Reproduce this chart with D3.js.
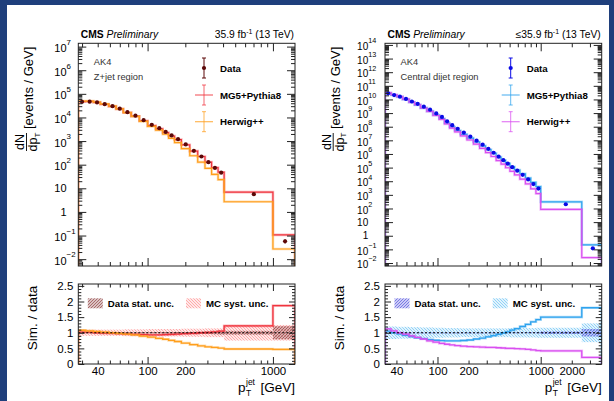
<!DOCTYPE html>
<html>
<head>
<meta charset="utf-8">
<script src="https://cdn.jsdelivr.net/npm/d3@7"></script>
<style>
  body { margin: 0; background: #1f3f7c; }
  svg { display: block; font-family: "Liberation Sans", Arial, Helvetica, sans-serif; }
</style>
</head>
<body>
<svg id="chart" width="614" height="401"></svg>
<script>
// =============================
// Data: Z+jet region (AK4)
// =============================
const zEdges   = [28, 32, 37, 42, 49, 56, 64, 74, 86, 100, 116, 132, 147, 164, 186, 217, 251, 287, 324, 365, 408, 1000, 1500];
const zData    = [45800, 46700, 43200, 36600, 30100, 23600, 16800, 11900, 7690, 4860, 3520, 2450, 1730, 1200, 718, 385, 222, 128, 73, 45.8, 5.62, 0.0573];
const zMG5     = [46700, 47600, 43200, 36200, 29500, 22900, 16100, 11300, 7230, 4520, 3270, 2300, 1640, 1150, 696, 377, 222, 129, 75.2, 48.1, 6.86, 0.107];
const zHerwig  = [49500, 49500, 44900, 37300, 30100, 23100, 16100, 11100, 6840, 4180, 2890, 1940, 1310, 864, 481, 239, 129, 70.4, 38.7, 23.4, 2.70, 0.0269];
const zStat    = [0.01, 0.01, 0.01, 0.01, 0.01, 0.01, 0.01, 0.01, 0.012, 0.014, 0.016, 0.018, 0.02, 0.022, 0.025, 0.03, 0.035, 0.04, 0.05, 0.06, 0.06, 0.21];
const zSyst    = [0.1, 0.1, 0.1, 0.1, 0.1, 0.1, 0.11, 0.11, 0.11, 0.12, 0.12, 0.12, 0.12, 0.12, 0.13, 0.13, 0.13, 0.14, 0.14, 0.14, 0.25, 0.25];
const zDecades = [0.01, 0.1, 1, 10, 100, 1e3, 1e4, 1e5, 1e6, 1e7];
const zXLabels = [40, 100, 200, 1000];

// =============================
// Data: central dijet region (AK4)
// =============================
const djEdges  = [31, 35.5, 40.5, 46, 53, 60, 68.5, 79, 90.5, 104, 117, 131, 147, 167, 193, 223, 256, 292, 330, 370, 413, 456, 503, 557, 628, 711, 800, 899, 1000, 2500, 3900];
const djData   = [2.8e10, 2.1e10, 1.6e10, 1.1e10, 7.1e9, 4.8e9, 2.95e9, 1.78e9, 9.5e8, 5.2e8, 2.5e8, 1.3e8, 7.1e7, 3.7e7, 1.9e7, 9.5e6, 4.8e6, 2.4e6, 1.23e6, 6.3e5, 3.5e5, 1.95e5, 1.07e5, 5.9e4, 2.95e4, 1.35e4, 6.2e3, 2.9e3, 204, 0.12];
const djMG5    = [2.94e10, 2.1e10, 1.54e10, 1.01e10, 6.25e9, 4.03e9, 2.39e9, 1.39e9, 7.22e8, 3.9e8, 1.85e8, 9.62e7, 5.25e7, 2.78e7, 1.46e7, 7.6e6, 3.98e6, 2.09e6, 1.12e6, 5.99e5, 3.47e5, 2.01e5, 1.16e5, 6.67e4, 3.54e4, 1.71e4, 8.37e3, 4.12e3, 306, 0.216];
const djHerwig = [3.14e10, 2.23e10, 1.6e10, 1.05e10, 6.39e9, 4.08e9, 2.36e9, 1.32e9, 6.65e8, 3.43e8, 1.58e8, 7.93e7, 4.19e7, 2.11e7, 1.06e7, 5.23e6, 2.59e6, 1.27e6, 6.52e5, 3.28e5, 1.79e5, 9.75e4, 5.35e4, 2.89e4, 1.42e4, 6.35e3, 2.79e3, 1.25e3, 85.7, 0.0252];
const djStat   = [0.005, 0.005, 0.005, 0.005, 0.005, 0.005, 0.005, 0.005, 0.005, 0.005, 0.005, 0.005, 0.005, 0.005, 0.005, 0.005, 0.005, 0.005, 0.005, 0.005, 0.006, 0.007, 0.008, 0.01, 0.01, 0.012, 0.015, 0.02, 0.04, 0.12];
const djSyst   = [0.2, 0.2, 0.19, 0.19, 0.18, 0.18, 0.17, 0.17, 0.16, 0.16, 0.15, 0.15, 0.15, 0.14, 0.14, 0.14, 0.14, 0.14, 0.14, 0.14, 0.14, 0.14, 0.15, 0.15, 0.15, 0.15, 0.15, 0.16, 0.16, 0.3];
const djDecades = [0.01, 0.1, 1, 10, 100, 1e3, 1e4, 1e5, 1e6, 1e7, 1e8, 1e9, 1e10, 1e11, 1e12, 1e13, 1e14];
const djXLabels = [40, 100, 200, 1000, 2000];

const ratioLabels = [0, 0.5, 1, 1.5, 2, 2.5];

// =============================
// Layout
// =============================
const UP_TOP = 43.3, UP_BOTTOM = 266;
const LO_TOP = 284, LO_BOTTOM = 364;

const svg = d3.select("#chart");
svg.append("rect").attr("width", 614).attr("height", 401).attr("fill", "#1f3f7c");
svg.append("rect").attr("x", 7).attr("y", 5).attr("width", 602).attr("height", 396).attr("fill", "#fff");

const defs = svg.append("defs");

// hatch fill used for the uncertainty bands
function hatch(id, color, forward, bg) {
    const p = defs.append("pattern")
        .attr("id", id)
        .attr("patternUnits", "userSpaceOnUse")
        .attr("width", 3).attr("height", 3);
    p.append("rect").attr("width", 3).attr("height", 3).attr("fill", bg);
    p.append("path")
        .attr("d", forward ? "M-1,1L1,-1M0,3L3,0M2,4L4,2" : "M-1,2L1,4M0,0L3,3M2,-1L4,1")
        .attr("stroke", color)
        .attr("stroke-width", 0.6);
}

const panels = [
    {
        id: "z", x0: 78.3, x1: 295,
        xDomain: [28, 1500], yDomain: [Math.pow(10, -2.29), Math.pow(10, 7.14)],
        edges: zEdges, data: zData, mg: zMG5, hw: zHerwig, stat: zStat, syst: zSyst,
        decades: zDecades, xLabels: zXLabels,
        dataColor: "#5c0808", mgColor: "#f0343e", hwColor: "#ff9f1c",
        statColor: "#8a3030", statBg: "rgba(150,80,80,0.35)",
        systColor: "#ff8080", systBg: "rgba(255,190,190,0.35)",
        lumiPre: "35.9 fb", region: "Z+jet region",
        yGap: 11.7, yFont: 11
    },
    {
        id: "dj", x0: 385, x1: 601.7,
        xDomain: [31, 3900], yDomain: [Math.pow(10, -2.22), Math.pow(10, 14.12)],
        edges: djEdges, data: djData, mg: djMG5, hw: djHerwig, stat: djStat, syst: djSyst,
        decades: djDecades, xLabels: djXLabels,
        dataColor: "#0a0ae6", mgColor: "#2ea3ee", hwColor: "#d94ff0",
        statColor: "#4545d8", statBg: "rgba(110,110,230,0.35)",
        systColor: "#5cbcf2", systBg: "rgba(170,220,250,0.35)",
        lumiPre: "\u226435.9 fb", region: "Central dijet region",
        yGap: 16.8, yFont: 10
    }
];

function cleanAxis(sel, fontSize) {
    sel.attr("font-family", null).attr("font-size", fontSize);
    sel.select(".domain").remove();
    sel.selectAll("line").attr("stroke", "#222");
}

function ticks(g, axisFn, scale, values, size, transform) {
    g.append("g")
        .attr("transform", transform)
        .call(axisFn(scale).tickValues(values).tickSize(size).tickFormat(""))
        .call(a => cleanAxis(a, 10));
}

function stepPath(edges, vals, x, y, base) {
    let d = "M" + x(edges[0]) + "," + base;
    vals.forEach((v, i) => {
        d += "L" + x(edges[i]) + "," + y(v) + "L" + x(edges[i + 1]) + "," + y(v);
    });
    d += "L" + x(edges[edges.length - 1]) + "," + base;
    return d;
}

panels.forEach(p => {
    const g = svg.append("g");
    const x = d3.scaleLog().domain(p.xDomain).range([p.x0, p.x1]);
    const y = d3.scaleLog().domain(p.yDomain).range([UP_BOTTOM, UP_TOP]);
    const r = d3.scaleLinear().domain([0, 2.56]).range([LO_BOTTOM, LO_TOP]);
    const w = p.x1 - p.x0;

    hatch("stat-" + p.id, p.statColor, true, p.statBg);
    hatch("syst-" + p.id, p.systColor, false, p.systBg);

    defs.append("clipPath").attr("id", "clipU-" + p.id)
        .append("rect").attr("x", p.x0).attr("y", UP_TOP).attr("width", w).attr("height", UP_BOTTOM - UP_TOP);
    defs.append("clipPath").attr("id", "clipL-" + p.id)
        .append("rect").attr("x", p.x0).attr("y", LO_TOP).attr("width", w).attr("height", LO_BOTTOM - LO_TOP);

    // ---------- upper panel ----------
    const up = g.append("g").attr("clip-path", "url(#clipU-" + p.id + ")");
    [[p.mg, p.mgColor], [p.hw, p.hwColor]].forEach(([vals, col]) => {
        up.append("path").attr("d", stepPath(p.edges, vals, x, y, UP_BOTTOM + 2))
            .attr("fill", "none").attr("stroke", col).attr("stroke-opacity", 0.35).attr("stroke-width", 2.6);
        up.append("path").attr("d", stepPath(p.edges, vals, x, y, UP_BOTTOM + 2))
            .attr("fill", "none").attr("stroke", col).attr("stroke-width", 1.2);
    });
    const centers = p.edges.slice(0, -1).map((e, i) => (e + p.edges[i + 1]) / 2);
    up.selectAll(".err").data(p.data).enter().append("line")
        .attr("x1", (d, i) => x(centers[i])).attr("x2", (d, i) => x(centers[i]))
        .attr("y1", (d, i) => y(d * (1 + p.stat[i]))).attr("y2", (d, i) => y(d * (1 - p.stat[i])))
        .attr("stroke", p.dataColor).attr("stroke-width", 1);
    up.selectAll(".pt").data(p.data).enter().append("circle")
        .attr("cx", (d, i) => x(centers[i])).attr("cy", d => y(d))
        .attr("r", 2.1).attr("fill", p.dataColor);

    // ---------- lower panel ----------
    const lo = g.append("g").attr("clip-path", "url(#clipL-" + p.id + ")");
    p.syst.forEach((u, i) => {
        lo.append("rect").attr("x", x(p.edges[i])).attr("width", x(p.edges[i + 1]) - x(p.edges[i]))
            .attr("y", r(1 + u)).attr("height", r(1 - u) - r(1 + u))
            .attr("fill", "url(#syst-" + p.id + ")");
    });
    p.stat.forEach((u, i) => {
        lo.append("rect").attr("x", x(p.edges[i])).attr("width", x(p.edges[i + 1]) - x(p.edges[i]))
            .attr("y", r(1 + u)).attr("height", Math.max(r(1 - u) - r(1 + u), 0.8))
            .attr("fill", "url(#stat-" + p.id + ")");
    });
    [[p.mg, p.mgColor], [p.hw, p.hwColor]].forEach(([vals, col]) => {
        const ratio = vals.map((v, i) => v / p.data[i]);
        lo.append("path").attr("d", stepPath(p.edges, ratio, x, r, LO_BOTTOM + 2))
            .attr("fill", "none").attr("stroke", col).attr("stroke-opacity", 0.35).attr("stroke-width", 2.6);
        lo.append("path").attr("d", stepPath(p.edges, ratio, x, r, LO_BOTTOM + 2))
            .attr("fill", "none").attr("stroke", col).attr("stroke-width", 1.3);
    });
    lo.append("line").attr("x1", p.x0).attr("x2", p.x1).attr("y1", r(1)).attr("y2", r(1))
        .attr("stroke", "#000").attr("stroke-width", 1).attr("stroke-dasharray", "2,2");

    // ---------- frames ----------
    [[UP_TOP, UP_BOTTOM], [LO_TOP, LO_BOTTOM]].forEach(([t, b]) => {
        g.append("rect").attr("x", p.x0).attr("y", t).attr("width", w).attr("height", b - t)
            .attr("fill", "none").attr("stroke", "#222").attr("stroke-width", 1);
    });

    // ---------- ticks ----------
    const xMinor = x.ticks().filter(v => Math.abs(Math.log10(v) % 1) > 1e-6);
    const xMajor = x.ticks().filter(v => Math.abs(Math.log10(v) % 1) < 1e-6);
    ticks(g, d3.axisBottom, x, xMinor, -4, `translate(0,${UP_BOTTOM})`);
    ticks(g, d3.axisBottom, x, xMajor, -8, `translate(0,${UP_BOTTOM})`);
    ticks(g, d3.axisTop, x, xMinor, -4, `translate(0,${UP_TOP})`);
    ticks(g, d3.axisTop, x, xMajor, -8, `translate(0,${UP_TOP})`);
    ticks(g, d3.axisBottom, x, xMinor, -3.5, `translate(0,${LO_BOTTOM})`);
    ticks(g, d3.axisBottom, x, xMajor, -7, `translate(0,${LO_BOTTOM})`);
    ticks(g, d3.axisTop, x, xMinor, -3.5, `translate(0,${LO_TOP})`);
    ticks(g, d3.axisTop, x, xMajor, -7, `translate(0,${LO_TOP})`);

    const yAll = y.ticks(40);
    const yMinor = yAll.filter(v => Math.abs(Math.log10(v) - Math.round(Math.log10(v))) > 1e-6);
    ticks(g, d3.axisLeft, y, yMinor, -4, `translate(${p.x0},0)`);
    ticks(g, d3.axisLeft, y, p.decades, -8, `translate(${p.x0},0)`);
    ticks(g, d3.axisRight, y, yMinor, -4, `translate(${p.x1},0)`);
    ticks(g, d3.axisRight, y, p.decades, -8, `translate(${p.x1},0)`);

    const rMinor = r.ticks(25).filter(v => Math.abs(v * 2 - Math.round(v * 2)) > 1e-6);
    ticks(g, d3.axisLeft, r, rMinor, -3, `translate(${p.x0},0)`);
    ticks(g, d3.axisLeft, r, ratioLabels, -6, `translate(${p.x0},0)`);
    ticks(g, d3.axisRight, r, rMinor, -3, `translate(${p.x1},0)`);
    ticks(g, d3.axisRight, r, ratioLabels, -6, `translate(${p.x1},0)`);

    // ---------- tick labels ----------
    const yLab = g.append("g").attr("transform", `translate(${p.x0},0)`)
        .call(d3.axisLeft(y).tickValues(p.decades).tickSize(0).tickPadding(p.yGap)
            .tickFormat(v => { const e = Math.round(Math.log10(v)); return e === 0 ? "1" : "10"; }))
        .call(a => cleanAxis(a, p.yFont));
    yLab.selectAll(".tick").each(function (v) {
        const e = Math.round(Math.log10(v));
        if (e === 0 || e === 1) return;
        const t = d3.select(this);
        t.select("text").attr("y", 1.5);
        t.append("text").attr("x", -p.yGap).attr("y", -2.2)
            .attr("text-anchor", "start").attr("font-size", p.yFont * 0.72).attr("fill", "#000")
            .text(e < 0 ? "\u2212" + (-e) : String(e));
    });

    g.append("g").attr("transform", `translate(${p.x0},0)`)
        .call(d3.axisLeft(r).tickValues(ratioLabels).tickSize(0).tickPadding(5).tickFormat(v => String(v)))
        .call(a => cleanAxis(a, 11.5));

    g.append("g").attr("transform", `translate(0,${LO_BOTTOM})`)
        .call(d3.axisBottom(x).tickValues(p.xLabels).tickSize(0).tickPadding(3).tickFormat(v => String(v)))
        .call(a => cleanAxis(a, 11.5));

    // ---------- titles ----------
    const top = g.append("text").attr("x", p.x0 + 2.5).attr("y", 37.5).attr("font-size", 10.3);
    top.append("tspan").attr("font-weight", "bold").text("CMS");
    top.append("tspan").attr("font-style", "italic").text(" Preliminary");

    const lumi = g.append("text").attr("x", p.x1 - 1).attr("y", 37.5).attr("font-size", 10.3).attr("text-anchor", "end");
    lumi.append("tspan").text(p.lumiPre);
    lumi.append("tspan").attr("font-size", 7).attr("dy", -4).text("-1");
    lumi.append("tspan").attr("dy", 4).text(" (13 TeV)");

    g.append("text").attr("x", p.x0 + 15.5).attr("y", 65).attr("font-size", 9.3).attr("fill", "#333").text("AK4");
    g.append("text").attr("x", p.x0 + 15.5).attr("y", 80).attr("font-size", 9.3).attr("fill", "#333").text(p.region);

    // y title (upper)
    const yt = g.append("g").attr("transform", `translate(${p.x0 - 51.8},142) rotate(-90)`);
    yt.append("text").attr("x", 0).attr("y", -2.5).attr("text-anchor", "middle").attr("font-size", 12.5).text("dN");
    yt.append("line").attr("x1", -9).attr("x2", 9).attr("y1", 0).attr("y2", 0).attr("stroke", "#000").attr("stroke-width", 0.9);
    const den = yt.append("text").attr("x", 0).attr("y", 10.5).attr("text-anchor", "middle").attr("font-size", 12.5);
    den.append("tspan").text("dp");
    den.append("tspan").attr("font-size", 8).attr("dy", 2.5).text("T");
    yt.append("text").attr("x", 13).attr("y", 6.5).attr("font-size", 13).text("[events / GeV]");

    // y title (lower)
    g.append("text").attr("transform", `translate(${p.x0 - 41.3},318) rotate(-90)`)
        .attr("text-anchor", "middle").attr("font-size", 13.5).text("Sim. / data");

    // x title
    g.append("text").attr("x", p.x1).attr("y", 392).attr("text-anchor", "end").attr("font-size", 13.5).text("[GeV]");
    g.append("text").attr("x", p.x1 - 57).attr("y", 392).attr("font-size", 13.5).text("p");
    g.append("text").attr("x", p.x1 - 49).attr("y", 396).attr("font-size", 8.5).text("T");
    g.append("text").attr("x", p.x1 - 49).attr("y", 385).attr("font-size", 8.5).text("jet");

    // ---------- legend (upper) ----------
    const lx = p.x0 + 125.7, tx = p.x0 + 141.7;
    const rows = [
        { y: 68, label: "Data", col: p.dataColor, dot: true },
        { y: 95, label: "MG5+Pythia8", col: p.mgColor, dot: false },
        { y: 121.7, label: "Herwig++", col: p.hwColor, dot: false }
    ];
    rows.forEach(row => {
        const c = row.dot ? p.dataColor : row.col;
        const op = row.dot ? 1 : 0.75;
        g.append("line").attr("x1", lx).attr("x2", lx).attr("y1", row.y - 10).attr("y2", row.y + 10)
            .attr("stroke", c).attr("stroke-width", 1).attr("stroke-opacity", op);
        [row.y - 10, row.y + 10].forEach(cy => {
            g.append("line").attr("x1", lx - 2).attr("x2", lx + 2).attr("y1", cy).attr("y2", cy)
                .attr("stroke", c).attr("stroke-width", 1).attr("stroke-opacity", op);
        });
        if (row.dot) {
            g.append("circle").attr("cx", lx).attr("cy", row.y).attr("r", 2.1).attr("fill", c);
        } else {
            g.append("line").attr("x1", lx - 9).attr("x2", lx + 9).attr("y1", row.y).attr("y2", row.y)
                .attr("stroke", c).attr("stroke-width", 1.2).attr("stroke-opacity", op);
        }
        g.append("text").attr("x", tx).attr("y", row.y + 3.5).attr("font-size", 9.7)
            .attr("font-weight", "bold").text(row.label);
    });

    // ---------- legend (lower) ----------
    [[p.x0 + 9.5, "stat-" + p.id, "Data stat. unc."], [p.x0 + 107.7, "syst-" + p.id, "MC syst. unc."]]
        .forEach(([bx, pat, label]) => {
            g.append("rect").attr("x", bx).attr("y", 298.3).attr("width", 15).attr("height", 10)
                .attr("fill", "url(#" + pat + ")");
            g.append("text").attr("x", bx + 20).attr("y", 306.7).attr("font-size", 9.7)
                .attr("font-weight", "bold").text(label);
        });
});
</script>
</body>
</html>
